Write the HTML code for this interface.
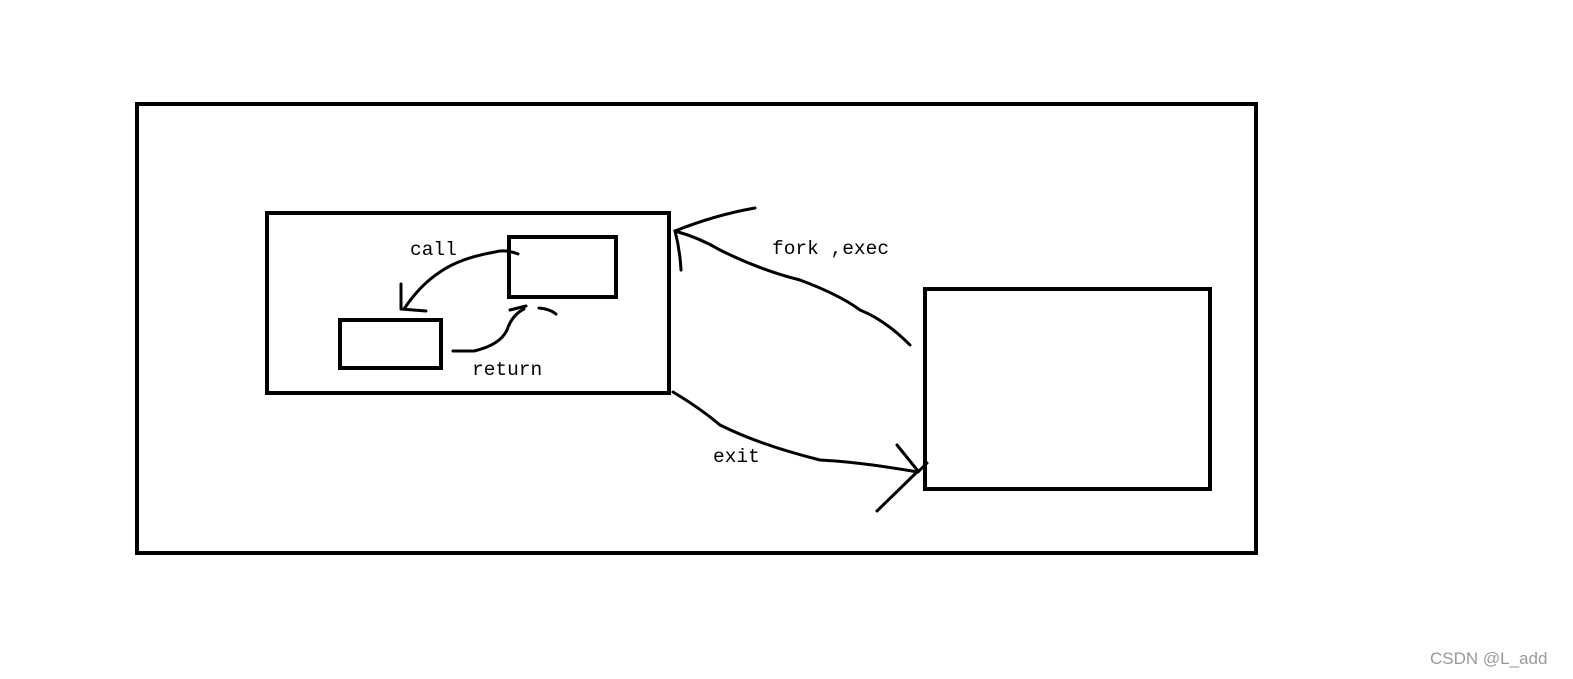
<!DOCTYPE html>
<html><head><meta charset="utf-8"><style>
html,body{margin:0;padding:0;background:#fff;}
svg{display:block}
text{font-family:"Liberation Mono","Noto Sans CJK SC",monospace;font-size:19.5px;fill:#000}
</style></head><body>
<svg width="1573" height="679" viewBox="0 0 1573 679" xmlns="http://www.w3.org/2000/svg">
<g fill="none" stroke="#000" stroke-width="4">
<rect x="137" y="104" width="1119" height="449"/>
<rect x="267" y="213" width="402" height="180"/>
<rect x="509" y="237" width="107" height="60"/>
<rect x="340" y="320" width="101" height="48"/>
<rect x="925" y="289" width="285" height="200"/>
</g>
<g fill="none" stroke="#000" stroke-width="3" stroke-linecap="round" stroke-linejoin="round">
<path d="M518 254 Q505 249 495 252 Q460 258 440 272 Q420 285 404 309"/>
<path d="M401 284 L401 309 L426 311"/>
<path d="M453 351 L474 351 Q500 345 507 330 Q512 315 524 309"/>
<path d="M510 310 L526 306"/>
<path d="M539 308 Q550 309 556 314"/>
<path d="M675 231 Q700 238 720 250 Q760 270 800 280 Q840 295 860 310 Q885 320 910 345"/>
<path d="M675 231 Q715 215 755 208"/>
<path d="M675 231 Q680 250 681 270"/>
<path d="M673 392 Q700 408 720 425 Q760 445 820 460 Q860 462 918 472 L927 463"/>
<path d="M897 445 L918 471 L877 511"/>
</g>
<text x="410" y="255">call</text>
<text x="472" y="375">return</text>
<text x="772" y="254">fork ,exec</text>
<text x="713" y="462">exit</text>
<text x="1430" y="664" style="font-family:'Liberation Sans',sans-serif;font-size:17px;fill:#999">CSDN @L_add</text>
</svg>
</body></html>
